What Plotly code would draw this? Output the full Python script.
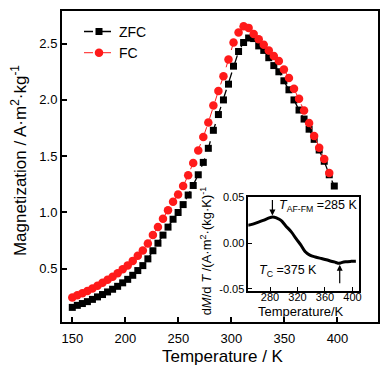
import plotly.graph_objects as go

# ---------------- data ----------------
T_fc = [150.0, 154.75, 159.5, 164.25, 169.0, 173.75, 178.5, 183.25, 188.0, 192.75,
        197.5, 202.25, 207.0, 211.75, 216.5, 221.25, 226.0, 230.75, 235.5, 240.25,
        245.0, 249.75, 254.5, 259.25, 264.0, 268.75, 273.5, 278.25, 283.0, 287.75,
        292.5, 297.25, 302.0, 306.75, 311.5, 316.25, 321.0, 325.75, 330.5, 335.25,
        340.0, 344.75, 349.5, 354.25, 359.0, 363.75, 368.5, 373.25, 378.0, 382.75,
        387.5, 392.25]
M_fc = [0.245, 0.265, 0.283, 0.302, 0.325, 0.350, 0.375, 0.402, 0.430, 0.460,
        0.495, 0.530, 0.570, 0.615, 0.662, 0.725, 0.800, 0.870, 0.945, 1.020,
        1.095, 1.160, 1.235, 1.330, 1.440, 1.550, 1.670, 1.800, 1.950, 2.080,
        2.210, 2.360, 2.510, 2.600, 2.655, 2.640, 2.585, 2.540, 2.490, 2.440,
        2.390, 2.345, 2.270, 2.195, 2.100, 2.010, 1.905, 1.795, 1.680, 1.575,
        1.475, 1.350]

T_zfc = [150.0, 154.75, 159.5, 164.25, 169.0, 173.75, 178.5, 183.25, 188.0, 192.75,
         197.5, 202.25, 207.0, 211.75, 216.5, 221.25, 226.0, 230.75, 235.5, 240.25,
         245.0, 249.75, 254.5, 259.25, 264.0, 268.75, 273.5, 278.25, 283.0, 287.75,
         292.5, 297.25, 302.0, 306.75, 311.5, 316.25, 321.0, 325.75, 330.5, 335.25,
         340.0, 344.75, 349.5, 354.25, 359.0, 363.75, 368.5, 373.25, 378.0, 382.75,
         387.5, 392.25, 397.0]
M_zfc = [0.157, 0.175, 0.191, 0.208, 0.228, 0.250, 0.271, 0.294, 0.318, 0.344,
         0.375, 0.406, 0.442, 0.484, 0.528, 0.588, 0.660, 0.727, 0.799, 0.870,
         0.940, 1.000, 1.070, 1.155, 1.240, 1.335, 1.445, 1.570, 1.730, 1.870,
         2.000, 2.140, 2.300, 2.430, 2.510, 2.550, 2.545, 2.480, 2.440, 2.375,
         2.305, 2.250, 2.170, 2.090, 2.000, 1.910, 1.830, 1.740, 1.650, 1.555,
         1.455, 1.335, 1.235]

T_ins = [248, 255, 262, 270, 277, 284, 290, 296, 303, 311, 318, 325, 331, 338,
         346, 355, 362, 369, 376, 380, 384, 390, 398, 405]
dMdT = [0.0197, 0.0210, 0.0228, 0.0250, 0.0272, 0.0288, 0.0275, 0.0250, 0.0190,
        0.0125, 0.0050, -0.0020, -0.0090, -0.0130, -0.0150, -0.0167, -0.0180,
        -0.0196, -0.0210, -0.0220, -0.0212, -0.0203, -0.0198, -0.0196]

main_xticks = [150, 200, 250, 300, 350, 400]
main_yticks = [0.5, 1.0, 1.5, 2.0, 2.5]
main_yticklabels = ["0.5", "1.0", "1.5", "2.0", "2.5"]
ins_xticks = [280, 320, 360, 400]
ins_yticks = [-0.05, 0.0, 0.05]
ins_yticklabels = ["-0.05", "0.00", "0.05"]

# ---------------- layout helpers ----------------
W, H = 389, 374
L, R, TOP, BOT = 62, 378, 5, 322


def px(x):
    return (x - L) / (R - L)


def py(y):
    return (BOT - y) / (BOT - TOP)


FONT = "Liberation Sans, Arial, sans-serif"

fig = go.Figure()
fig.add_trace(go.Scatter(
    x=T_zfc, y=M_zfc, mode="lines+markers", name="ZFC",
    line=dict(color="black", width=1.3, dash="dash"),
    marker=dict(symbol="square", size=7, color="black"),
    xaxis="x", yaxis="y"))
fig.add_trace(go.Scatter(
    x=T_fc, y=M_fc, mode="lines+markers", name="FC",
    line=dict(color="#ff1a1a", width=1.0, dash="dash"),
    marker=dict(symbol="circle", size=8.5, color="#ff1a1a"),
    xaxis="x", yaxis="y"))
fig.add_trace(go.Scatter(
    x=T_ins, y=dMdT, mode="lines", showlegend=False,
    line=dict(color="black", width=3, shape="spline"),
    xaxis="x2", yaxis="y2"))

axis_common = dict(showgrid=False, zeroline=False, showline=True, linecolor="black",
                   ticks="inside", tickcolor="black", mirror=True)

fig.update_layout(
    width=W, height=H,
    margin=dict(l=L, r=W - R, t=TOP, b=H - BOT),
    paper_bgcolor="white", plot_bgcolor="white",
    font=dict(family=FONT, color="black"),
    xaxis=dict(**axis_common, domain=[0, 1], range=[140.3, 438.2],
               tickvals=main_xticks, linewidth=2, ticklen=5, tickwidth=1.5,
               tickfont=dict(size=13), ticklabelstandoff=3),
    yaxis=dict(**axis_common, domain=[0, 1], range=[0.027, 2.79],
               tickvals=main_yticks, ticktext=main_yticklabels,
               linewidth=2, ticklen=5, tickwidth=1.5, tickfont=dict(size=13)),
    xaxis2=dict(**axis_common, anchor="y2", domain=[px(248.3), px(359.3)],
                range=[248.4, 410], tickvals=ins_xticks, linewidth=1.5,
                ticklen=4, tickwidth=1.2, tickfont=dict(size=11),
                ticklabelstandoff=-5),
    yaxis2=dict(**axis_common, anchor="x2", domain=[py(290), py(195)],
                range=[-0.0518, 0.0502], tickvals=ins_yticks,
                ticktext=ins_yticklabels, linewidth=1.5, ticklen=4,
                tickwidth=1.2, tickfont=dict(size=11)),
    legend=dict(x=px(79), y=py(10), xanchor="left", yanchor="top",
                bgcolor="rgba(0,0,0,0)", font=dict(size=14),
                tracegroupgap=0, itemwidth=30),
    showlegend=True,
)

ann = [
    dict(text="Temperature / K", x=px(223), y=py(357), font=dict(size=17)),
    dict(text="Magnetization / A·m<sup>2</sup>·kg<sup>-1</sup>", x=px(19), y=py(158),
         textangle=-90, font=dict(size=17)),
    dict(text="Temperature/K", x=px(301), y=py(311), font=dict(size=13)),
    dict(text="d<i>M</i>/d <i>T</i> /(A·m<sup>2</sup>·(kg·K)<sup>-1</sup>",
         x=px(206), y=py(250), textangle=-90, font=dict(size=13)),
    dict(text="<i>T</i><sub>AF-FM</sub> =285 K", x=px(277), y=py(204),
         xanchor="left", font=dict(size=12.5)),
    dict(text="<i>T</i><sub>C</sub> =375 K", x=px(257), y=py(270),
         xanchor="left", font=dict(size=12.5)),
]
for a in ann:
    a.setdefault("xanchor", "center")
    fig.add_annotation(xref="paper", yref="paper", yanchor="middle",
                       showarrow=False, **a)

# arrows in inset
fig.add_annotation(xref="x2", yref="y2", x=283.5, y=0.0305, ax=0, ay=-17,
                   text="", showarrow=True, arrowhead=2, arrowsize=1,
                   arrowwidth=1.2, arrowcolor="black")
fig.add_annotation(xref="x2", yref="y2", x=381.5, y=-0.0235, ax=0, ay=20,
                   text="", showarrow=True, arrowhead=2, arrowsize=1,
                   arrowwidth=1.2, arrowcolor="black")

fig.write_html("out.html", config={"displayModeBar": False},
               post_script="document.body.style.margin='0';")
